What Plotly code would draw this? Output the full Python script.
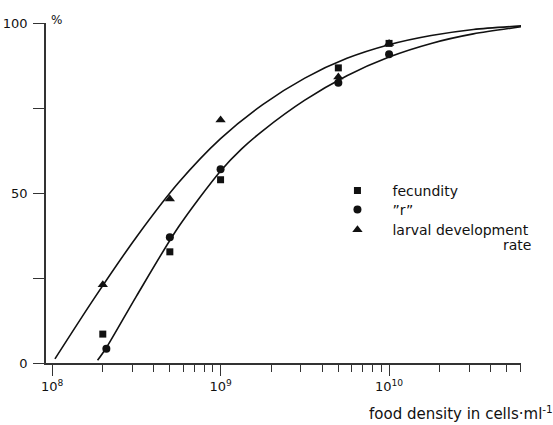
import plotly.graph_objects as go

# ---- data ----
density = [2e8, 5e8, 1e9, 5e9, 1e10, 6.3e10]
fecundity = [8.5, 32.7, 53.9, 86.8, 94.0, 99.0]
r_density = [2.1e8, 5e8, 1e9, 5e9, 1e10, 6.3e10]
r_values = [4.2, 37.0, 57.0, 82.4, 90.8, 99.0]
larval_density = [2e8, 5e8, 1e9, 5e9, 1e10, 6.3e10]
larval = [23.0, 48.2, 71.5, 84.1, 94.0, 99.0]

# fitted curves
upper_x = [1.04e8, 1.778e8, 3.162e8, 5.623e8, 1e9, 1.778e9, 3.162e9,
           5.623e9, 1e10, 1.778e10, 3.162e10, 6.31e10]
upper_y = [1.2, 19.0, 37.0, 53.0, 66.0, 76.0, 83.8,
           89.6, 93.6, 96.3, 98.1, 99.2]
lower_x = [1.862e8, 2.1e8, 3.162e8, 5.623e8, 1e9, 1.334e9, 1.778e9, 3.162e9,
           5.623e9, 1e10, 1.778e10, 3.162e10, 6.31e10]
lower_y = [0.8, 4.5, 19.6, 40.0, 56.5, 63.0, 68.3, 77.3,
           84.5, 90.0, 94.0, 96.8, 99.0]

x_major = [1e8, 1e9, 1e10]
x_major_text = ["10<sup>8</sup>", "10<sup>9</sup>", "10<sup>10</sup>"]
x_minor = [2e8, 3e8, 4e8, 5e8, 6e8, 7e8, 8e8, 9e8,
           2e9, 3e9, 4e9, 5e9, 6e9, 7e9, 8e9, 9e9,
           2e10, 3e10, 4e10, 5e10, 6e10]
y_ticks = [0, 25, 50, 75, 100]
y_tick_text = ["0", "", "50", "", "100"]

FONT = "DejaVu Sans, Liberation Sans, Arial, sans-serif"
INK = "#111111"
AX = "#333333"

fig = go.Figure()

fig.add_trace(go.Scatter(x=upper_x, y=upper_y, mode="lines",
                         line=dict(color=INK, width=1.6, shape="spline", smoothing=0.8),
                         showlegend=False, hoverinfo="skip", cliponaxis=False))
fig.add_trace(go.Scatter(x=lower_x, y=lower_y, mode="lines",
                         line=dict(color=INK, width=1.6, shape="spline", smoothing=0.8),
                         showlegend=False, hoverinfo="skip", cliponaxis=False))

fig.add_trace(go.Scatter(x=density, y=fecundity, mode="markers", name="fecundity", legend="legend",
                         marker=dict(symbol="square", size=7, color=INK), cliponaxis=False))
fig.add_trace(go.Scatter(x=r_density, y=r_values, mode="markers", name="\u201dr\u201d", legend="legend2",
                         marker=dict(symbol="circle", size=8, color=INK), cliponaxis=False))
fig.add_trace(go.Scatter(x=larval_density, y=larval, mode="markers", name="larval development",
                         legend="legend3",
                         marker=dict(symbol="triangle-up", size=9, color=INK), cliponaxis=False))

LEG_X = 0.582
leg_common = dict(x=LEG_X, xanchor="left", yanchor="middle", bgcolor="rgba(0,0,0,0)",
                  itemwidth=60, font=dict(family=FONT, size=14, color=INK))

fig.update_layout(
    width=553, height=425,
    margin=dict(l=46, r=32, t=23, b=62, autoexpand=False),
    paper_bgcolor="white", plot_bgcolor="white",
    font=dict(family=FONT, size=14, color=INK),
    showlegend=True,
    legend=dict(y=0.506, **leg_common),
    legend2=dict(y=0.450, **leg_common),
    legend3=dict(y=0.391, **leg_common),
    xaxis=dict(type="log", range=[7.964, 10.783], showgrid=False, zeroline=False,
               automargin=False,
               showline=True, linecolor=AX, linewidth=1.5,
               ticks="outside", ticklen=11, tickwidth=1.2, tickcolor=AX,
               tickvals=x_major, ticktext=x_major_text,
               tickfont=dict(family=FONT, size=13, color=INK),
               minor=dict(tickvals=x_minor, ticks="outside", ticklen=7, tickwidth=1.2,
                          tickcolor=AX, showgrid=False)),
    yaxis=dict(range=[0, 100], showgrid=False, zeroline=False,
               automargin=False,
               showline=True, linecolor=AX, linewidth=1.5,
               ticks="outside", ticklen=11, tickwidth=1.2, tickcolor=AX,
               tickvals=y_ticks, ticktext=y_tick_text, ticklabelstandoff=3,
               tickfont=dict(family=FONT, size=13, color=INK)),
)

fig.add_annotation(text="%", xref="paper", yref="paper", x=0.022, y=1.01,
                   xanchor="center", yanchor="middle", showarrow=False,
                   font=dict(family=FONT, size=12, color=INK))
fig.add_annotation(text="food density in cells\u00b7ml<sup>-1</sup>", xref="paper", yref="paper",
                   x=1.072, y=-0.147, xanchor="right", yanchor="middle", showarrow=False,
                   font=dict(family=FONT, size=15, color=INK))
fig.add_annotation(text="rate", xref="paper", yref="paper", x=1.025, y=0.347,
                   xanchor="right", yanchor="middle", showarrow=False,
                   font=dict(family=FONT, size=14, color=INK))

fig.write_html("out.html")
